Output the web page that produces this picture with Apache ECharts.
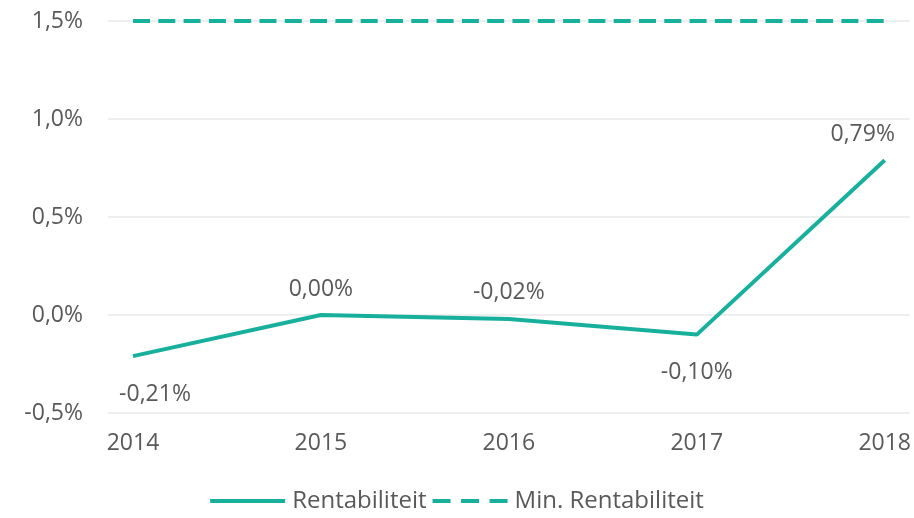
<!DOCTYPE html>
<html>
<head>
<meta charset="utf-8">
<script src="https://cdn.jsdelivr.net/npm/echarts@6/dist/echarts.min.js"></script>
<style>
  html, body { margin: 0; padding: 0; background: #fff; }
  #chart { width: 914px; height: 518px; }
</style>
</head>
<body>
<div id="chart"></div>
<script>
// data
var years = [2014, 2015, 2016, 2017, 2018];
var rentabiliteit = [-0.21, 0.00, -0.02, -0.10, 0.79];
var minRentabiliteit = [1.5, 1.5, 1.5, 1.5, 1.5];
var labelPos = ['bottom', 'top', 'top', 'bottom', 'top'];

var teal = '#17b09d';
var textColor = '#595959';
var font = 'Open Sans';
var fs = 23;

// legenda-iconen: doorgetrokken en gestippelde lijn
var solidIcon = 'path://M0,0H75V4H0Z';
var dashIcon = 'path://M0,0H18V4H0Z M28.5,0H46.5V4H28.5Z M57,0H75V4H57Z';

function pct(v, d) {
    return v.toFixed(d).replace('.', ',') + '%';
}

(function () {
    var myChart = echarts.init(document.getElementById('chart'));

    var lineData = years.map(function (y, i) {
        var below = labelPos[i] === 'bottom';
        var off = [0, 0];
        if (i === 0) off = [22, 0];
        if (i === years.length - 1) off = [-22, 0];
        return {
            value: [y, rentabiliteit[i]],
            label: {
                position: labelPos[i],
                distance: below ? 26 : 14,
                offset: off
            }
        };
    });
    var minData = years.map(function (y, i) { return [y, minRentabiliteit[i]]; });

    var option = {
        animation: false,
        grid: {
            left: 108,
            right: 4,
            top: 21,
            bottom: 105,
            containLabel: false
        },
        legend: {
            bottom: 0,
            left: 'center',
            itemWidth: 75,
            itemHeight: 4,
            itemGap: 6,
            textStyle: { color: textColor, fontFamily: font, fontSize: 24, padding: [0, 0, 0, 2] },
            data: [
                { name: 'Rentabiliteit', icon: solidIcon, itemStyle: { color: teal, opacity: 1 } },
                { name: 'Min. Rentabiliteit', icon: dashIcon, itemStyle: { color: teal } }
            ]
        },
        xAxis: {
            type: 'value',
            min: 2014 - 25 / 188,
            max: 2018 + 25 / 188,
            splitLine: { show: false },
            axisLine: { show: false },
            axisTick: { show: false },
            axisLabel: {
                customValues: years,
                formatter: function (v) { return String(v); },
                color: textColor,
                fontFamily: font,
                fontSize: fs,
                margin: 19
            }
        },
        yAxis: {
            type: 'value',
            min: -0.5,
            max: 1.5,
            interval: 0.5,
            axisLine: { show: false },
            axisTick: { show: false },
            axisLabel: {
                color: textColor,
                fontFamily: font,
                fontSize: fs,
                margin: 25,
                formatter: function (v) { return pct(v, 1); }
            },
            splitLine: { lineStyle: { color: '#e8e8e8', width: 1.5 } }
        },
        series: [
            {
                name: 'Rentabiliteit',
                type: 'line',
                data: lineData,
                symbol: 'circle',
                symbolSize: 1,
                showSymbol: true,
                color: teal,
                itemStyle: { color: 'transparent', borderWidth: 0 },
                lineStyle: { color: teal, width: 4 },
                label: {
                    show: true,
                    color: textColor,
                    fontFamily: font,
                    fontSize: fs,
                    formatter: function (p) { return pct(p.value[1], 2); }
                }
            },
            {
                name: 'Min. Rentabiliteit',
                type: 'line',
                data: minData,
                symbol: 'none',
                color: teal,
                lineStyle: { color: teal, width: 4, type: [17, 8.3] }
            }
        ]
    };
    myChart.setOption(option);
})();
</script>
</body>
</html>
